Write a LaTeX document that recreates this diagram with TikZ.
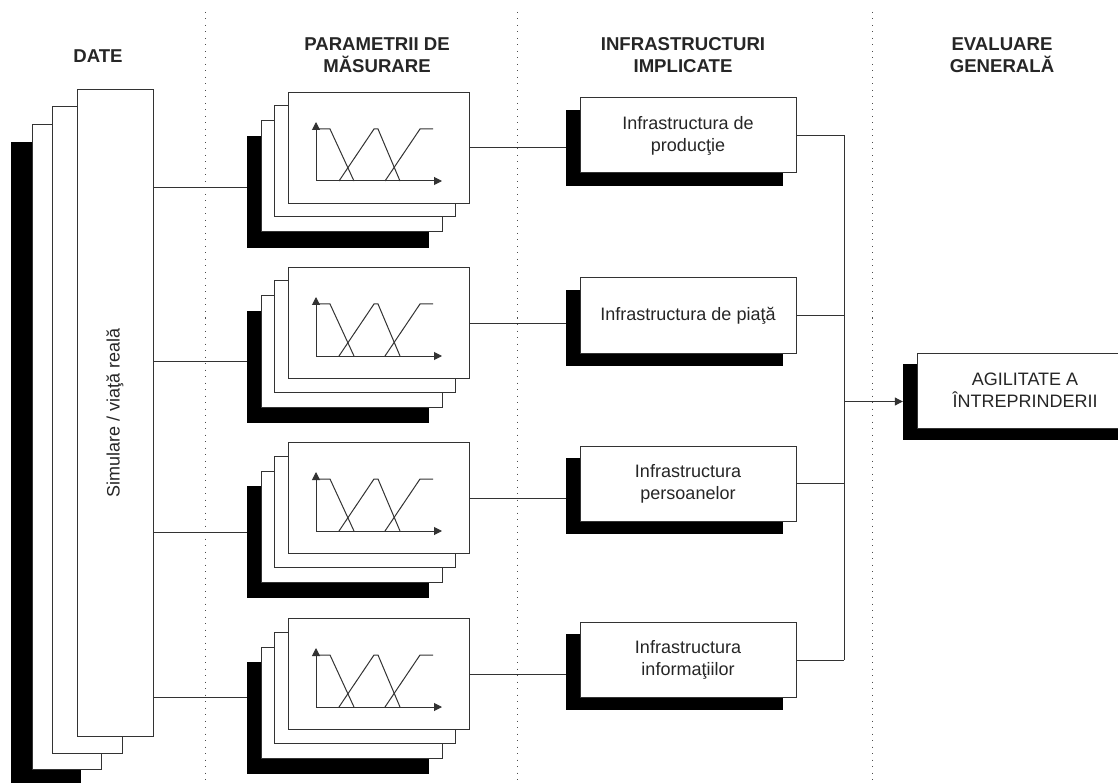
\documentclass[tikz,border=0pt]{standalone}
\usepackage{fontspec}
\setmainfont{Liberation Sans}
\usetikzlibrary{arrows.meta,calc}

\tikzset{
	ln/.style={draw=black!80, line width=1pt},
	box/.style={ln, fill=white, inner sep=0pt, align=center, text=black!85, font=\fontsize{18}{22}\selectfont},
	shadow/.style={fill=black, draw=black, inner sep=0pt},
	hdr/.style={align=center, text=black!85, font=\bfseries\fontsize{18.6}{22}\selectfont},
	sep/.style={draw=black!70, line width=1pt, dash pattern=on 1pt off 5.5pt},
	tip/.style={-{Triangle[length=8pt,width=8pt]}},
}

\begin{document}
\begin{tikzpicture}[x=1pt,y=-1pt]
	\useasboundingbox (0,0) rectangle (1118,783);
	\clip (0,0) rectangle (1118,783);
	\draw[sep] (205,12) -- (205,783);
	\draw[sep] (517,12) -- (517,783);
	\draw[sep] (872,12) -- (872,783);
	\node[hdr] (h1) at (98,56) {DATE};
	\node[hdr] (h2) at (377,55) {PARAMETRII DE\\MĂSURARE};
	\node[hdr] (h3) at (683,55) {INFRASTRUCTURI\\IMPLICATE};
	\node[hdr] (h4) at (1002,55) {EVALUARE\\GENERALĂ};

	% date
	\fill (11,142) rectangle (81,790);
	\draw[box] (32,125) rectangle (101,769);
	\draw[box] (52,107) rectangle (122,753);
	\node[box, minimum width=76, minimum height=646] (datef) at (115,413) {};
	\node[rotate=90, text=black!85, font=\fontsize{18}{22}\selectfont] (datet) at (datef.center) {Simulare / viaţă reală};

	% final
	\node[shadow, minimum width=216, minimum height=75] (fs) at (1011,401.5) {};
	\node[box, minimum width=216, minimum height=75] (fin) at (1025,390.5) {AGILITATE A\\ÎNTREPRINDERII};

	\foreach \i/\t/\l/\c/\txt in {1/92/188/135.5/{Infrastructura de\\producţie}, 2/267/361/315.5/{Infrastructura de piaţă}, 3/442/532/483.5/{Infrastructura\\persoanelor}, 4/618/697/660/{Infrastructura\\informaţiilor}} {
		\node[shadow, minimum width=181, minimum height=111, anchor=north west] (mfs\i) at (247,\t+44) {};
		\draw[box] (261,\t+29) rectangle ++(181,111);
		\draw[box] (274,\t+14) rectangle ++(181,111);
		\node[box, minimum width=181, minimum height=111, anchor=north west] (mf\i) at (288,\t) {};
		\draw[ln, tip] (316,\t+89) -- (316,\t+30);
		\draw[ln, tip] (316,\t+89) -- (442,\t+89);
		\draw[ln] (316,\t+37) -- (330,\t+37) -- (354,\t+89);
		\draw[ln] (339,\t+89) -- (374,\t+37) -- (378,\t+37) -- (400,\t+89);
		\draw[ln] (385,\t+89) -- (420,\t+37) -- (433,\t+37);
		\draw[ln] (datef.east |- 0,\l) -- (mfs\i.west |- 0,\l);
		\node[shadow, minimum width=216, minimum height=75] (is\i) at (674,\c+12) {};
		\node[box, minimum width=216, minimum height=75] (if\i) at (688,\c) {\txt};
		\draw[ln] (mf\i.east) -- (mf\i.east -| is\i.west);
		\draw[ln] (if\i.east) -- (if\i.east -| 844,0);
	}
	\draw[ln] (if1.east -| 844,0) -- (if4.east -| 844,0);
	\draw[ln, tip] (fs.west -| 844,0) -- (fs.west);
\end{tikzpicture}
\end{document}
